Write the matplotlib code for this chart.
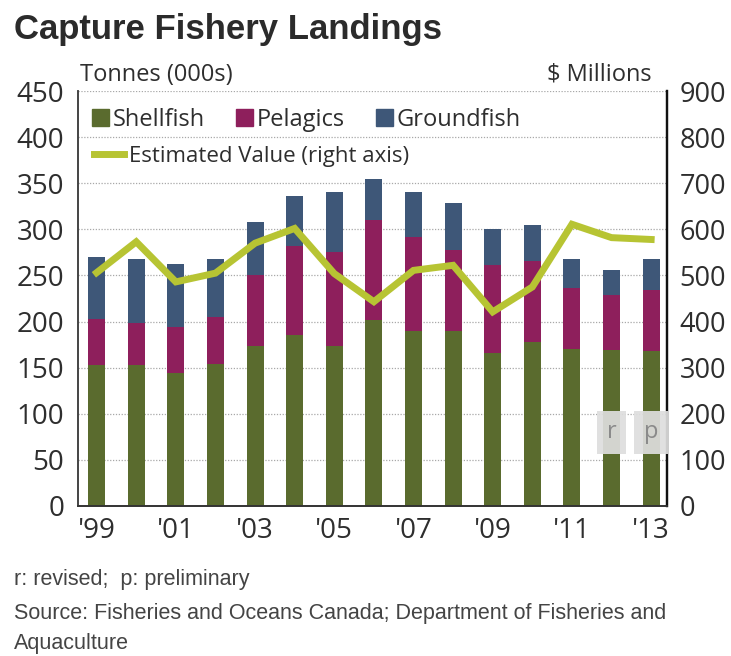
import numpy as np
import matplotlib.pyplot as plt
from matplotlib.patches import Patch
from matplotlib.lines import Line2D

plt.switch_backend('agg')

# Landings in thousands of tonnes, by species group
years = ['99', '00', '01', '02', '03', '04', '05', '06', '07', '08', '09', '10', '11', '12', '13']
shellfish = [153, 153, 144, 154, 174, 185, 173, 202, 190, 190, 166, 178, 170, 169, 168]
pelagics = [50, 45, 50, 51, 76, 97, 102, 108, 102, 88, 95, 88, 66, 60, 66]
groundfish = [67, 70, 68, 63, 58, 54, 65, 45, 48, 51, 39, 39, 32, 27, 34]
# Estimated landed value, $ millions
value = [506, 573, 486, 505, 570, 602, 504, 443, 511, 522, 421, 475, 611, 582, 578]
# revised / preliminary flags
flags = {'12': 'r', '13': 'p'}

left_ticks = [0, 50, 100, 150, 200, 250, 300, 350, 400, 450]
right_ticks = [0, 100, 200, 300, 400, 500, 600, 700, 800, 900]

c_shell = '#5a6b2e'
c_pel = '#8e1f5c'
c_ground = '#3e5778'
c_line = '#b7c433'
txt = '#2e2e2e'

plt.rcParams['font.family'] = ['Open Sans', 'DejaVu Sans']

fig = plt.figure(figsize=(7.31, 6.56), dpi=100)
ax = fig.add_axes([78 / 731, 150 / 656, 589 / 731, 415 / 656])
ax2 = ax.twinx()

x = np.arange(len(years))
w = 0.43
b1 = np.array(shellfish)
b2 = b1 + np.array(pelagics)
ax.bar(x, shellfish, w, color=c_shell, zorder=2)
ax.bar(x, pelagics, w, bottom=b1, color=c_pel, zorder=2)
ax.bar(x, groundfish, w, bottom=b2, color=c_ground, zorder=2)

ax2.plot(x, value, color=c_line, lw=5, solid_joinstyle='miter', zorder=3)

ax.set_xlim(-0.47, 14.4)
ax.set_ylim(0, 450)
ax2.set_ylim(0, 900)
ax.set_yticks(left_ticks)
ax2.set_yticks(right_ticks)
ax.set_xticks(x[::2])
ax.set_xticklabels(["'" + y for y in years[::2]])

for a in (ax, ax2):
    a.tick_params(length=0, labelsize=20, colors=txt)
    a.spines['top'].set_visible(False)
ax.tick_params(axis='y', pad=10)
ax2.tick_params(axis='y', pad=9, labelsize=19.5)
ax.tick_params(axis='x', pad=8)

ax.yaxis.grid(True, color='#a8a8a8', linestyle=(0, (1, 1.3)), lw=0.9, zorder=0)
ax.set_axisbelow(True)
for a in (ax, ax2):
    a.spines['left'].set_color('#444444')
    a.spines['bottom'].set_color('#333333')
    a.spines['right'].set_color('#111111')
    a.spines['right'].set_linewidth(1.6)
    a.spines['left'].set_linewidth(1.2)
    a.spines['bottom'].set_linewidth(1.2)

# r / p markers over the last two years
for yr, s in flags.items():
    ax2.text(years.index(yr), 160, s, ha='center', va='center', fontsize=17, color='#8a8a8a',
             bbox=dict(boxstyle='square,pad=0.4', fc='#dedede', ec='none', alpha=0.92), zorder=4)

# legends
h1 = [Patch(color=c_shell, label='Shellfish'), Patch(color=c_pel, label='Pelagics'),
      Patch(color=c_ground, label='Groundfish')]
leg1 = ax2.legend(handles=h1, ncol=3, frameon=False, loc='upper left',
                  bbox_to_anchor=(-0.005, 1.0), fontsize=17, handlelength=0.75,
                  handleheight=0.75, handletextpad=0.15, columnspacing=1.3,
                  borderaxespad=0.3, labelcolor=txt)
ax2.add_artist(leg1)
h2 = [Line2D([0], [0], color=c_line, lw=5, label='Estimated Value (right axis)')]
ax2.legend(handles=h2, frameon=False, loc='upper left', bbox_to_anchor=(0.0, 0.905),
           fontsize=16, handlelength=1.35, handletextpad=0.25, borderaxespad=0.3,
           labelcolor=txt)

fig.text(80 / 731, 1 - 75 / 656, 'Tonnes (000s)', fontsize=17, color=txt, va='center')
fig.text(652 / 731, 1 - 75 / 656, '$ Millions', fontsize=17, color=txt, va='center', ha='right')

fig.text(14 / 731, 1 - 30 / 656, 'Capture Fishery Landings', fontsize=25, fontweight='bold',
         family='Liberation Sans', color='#2b2b2b', va='center')
fig.text(14 / 731, 1 - 580 / 656, 'r: revised;  p: preliminary', fontsize=15.5,
         family='Liberation Sans', color='#444444', va='center')
fig.text(14 / 731, 1 - 614 / 656, 'Source: Fisheries and Oceans Canada; Department of Fisheries and',
         fontsize=15.5, family='Liberation Sans', color='#444444', va='center')
fig.text(14 / 731, 1 - 643 / 656, 'Aquaculture', fontsize=15.5, family='Liberation Sans',
         color='#444444', va='center')

fig.savefig('out.png', dpi=100)
